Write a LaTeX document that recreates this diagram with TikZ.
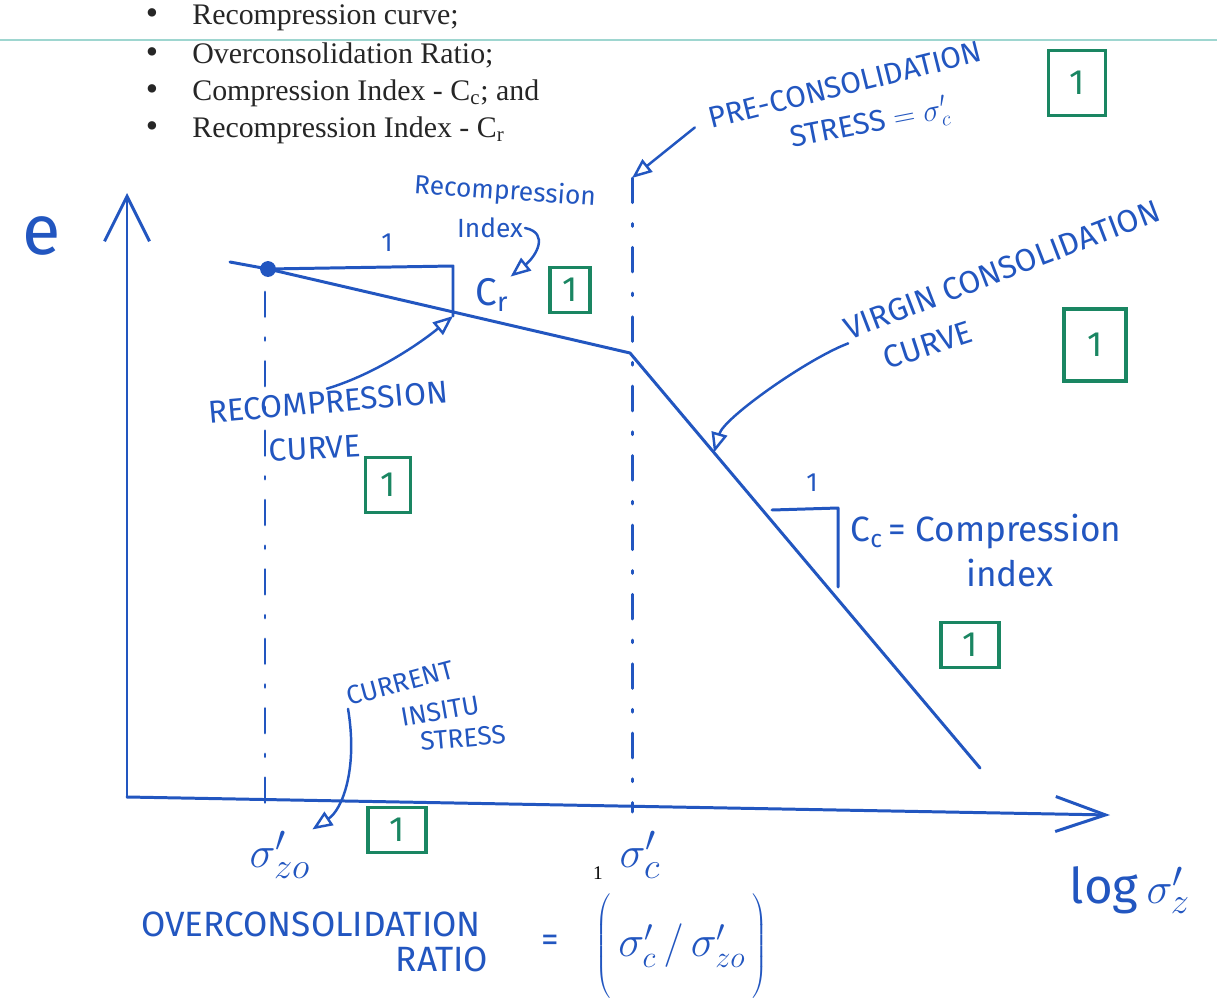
\documentclass[tikz,border=0pt]{standalone}
\usepackage{fontspec}
\setmainfont{Liberation Serif}
\newfontfamily\penfont{Fira Sans}
\usepackage{xcolor}
\usepackage{tikz}
\usetikzlibrary{arrows.meta,positioning,calc}
\definecolor{penblue}{RGB}{34,86,192}
\definecolor{markgreen}{RGB}{26,134,98}
\definecolor{ruleteal}{RGB}{158,214,208}
\tikzset{
  ecpen/.style={draw=penblue,line width=1.7pt,line cap=round,line join=round},
  ecguide/.style={ecpen,dash pattern=on 14pt off 12pt on 1.5pt off 12pt},
  ecarr/.style={ecpen,line width=1.4pt,-{Triangle[open,length=4mm,width=3.2mm]}},
  ecaxis/.style={ecpen,-{Straight Barb[length=9mm,width=9mm]}},
  echand/.style={text=penblue,font=\penfont\fontsize{17}{20}\selectfont,inner sep=1pt,align=center},
  ecmark/.style={draw=markgreen,line width=1.8pt,text=markgreen,font=\penfont\fontsize{20}{22}\selectfont,inner sep=0pt},
  ecprint/.style={anchor=base west,inner sep=0pt,font=\fontsize{17}{20}\selectfont,text=black!85},
  ecbullet/.style={anchor=base,inner sep=0pt,font=\fontsize{20}{22}\selectfont,text=black!85}
}
\begin{document}
\begin{tikzpicture}[x=0.02cm,y=-0.02cm]
\useasboundingbox[fill=white] (0,0) rectangle (1217,1004);

% printed list on top
\draw[ruleteal,line width=1.6pt] (0,40) -- (1217,40);
\foreach \yy/\txt in {25/{Recompression curve;},63/{Overconsolidation Ratio;},
    100/{Compression Index - C\textsubscript{c}; and},137/{Recompression Index - C\textsubscript{r}}}{
  \node[ecbullet] (dot\yy) at (152,\yy) {\textbullet};
  \node[ecprint] (item\yy) at (192,\yy) {\txt};
}

% axes
\coordinate (orig) at (127,797);
\coordinate (ytip) at (127,193);
\coordinate (xtip) at (1110,815);
\draw[ecaxis] (orig) -- (ytip);
\draw[ecaxis,-{Straight Barb[length=10mm,width=7mm]}] (orig) -- (xtip);
\node[echand,font=\penfont\fontsize{40}{42}\selectfont] (ylbl) at (42,236) {e};
\node[echand,font=\penfont\fontsize{28}{30}\selectfont] (xlbl) at (1130,890) {log\,$\sigma'_z$};

% e - log curve
\coordinate (rcstart) at (230,262);
\node[circle,fill=penblue,inner sep=0pt,minimum size=9pt] (pt) at (268,269) {};
\coordinate (knee) at (630,353);
\coordinate (vcend) at (980,768);
\draw[ecpen] (rcstart) -- (pt.center) -- (knee) -- (vcend);

% guides
\coordinate (gzotop) at (265,292);
\coordinate (gzobot) at (265,805);
\coordinate (gctop) at (632,178);
\coordinate (gcbot) at (632,812);
\draw[ecguide] (gzotop) -- (gzobot);
\draw[ecguide] (gctop) -- (gcbot);

% Cr triangle
\coordinate (crB) at (453,266);
\coordinate (crC) at (453,316);
\draw[ecpen] (pt.center) -- (crB) -- (crC);
\node[echand,font=\penfont\fontsize{15}{18}\selectfont] (crone) at (387,243) {1};
\node[echand,font=\penfont\fontsize{22}{24}\selectfont] (crlbl) at (492,295) {C\textsubscript{r}};
\node[ecmark,minimum width=0.8cm,minimum height=0.9cm] (crmark) at (570,290) {1};
\node[echand,font=\penfont\fontsize{15}{18}\selectfont,rotate=-4] (rilbl) at (505,192) {Recompression};
\node[echand,font=\penfont\fontsize{15}{18}\selectfont] (rilblb) at (490,228) {Index};
\draw[ecarr] (rilblb.east) .. controls +(25,5) and +(25,-20) .. (crlbl.north east);

% recompression curve label
\node[echand,font=\penfont\fontsize{18}{20}\selectfont,rotate=5] (rclbl) at (328,402) {RECOMPRESSION};
\node[echand,font=\penfont\fontsize{18}{20}\selectfont,rotate=3] (rclblb) at (315,448) {CURVE};
\node[ecmark,minimum width=0.9cm,minimum height=1.1cm] (rcmark) at (388,485) {1};
\draw[ecarr] (rclbl.north) .. controls +(50,-15) and +(-30,25) .. (crC);

% pre-consolidation stress
\node[echand,rotate=14] (pclbl) at (845,85) {PRE-CONSOLIDATION};
\node[echand,rotate=11] (pclblb) at (870,125) {STRESS $=\sigma'_c$};
\node[ecmark,minimum width=1.14cm,minimum height=1.3cm] (pcmark) at (1077,83) {1};
\draw[ecarr] ($(pclbl.west)+(-12,8)$) -- (gctop);

% virgin consolidation curve
\node[echand,font=\penfont\fontsize{18}{20}\selectfont,rotate=21] (vclbl) at (1002,270) {VIRGIN CONSOLIDATION};
\node[echand,font=\penfont\fontsize{18}{20}\selectfont,rotate=18] (vclblb) at (928,345) {CURVE};
\node[ecmark,minimum width=1.24cm,minimum height=1.44cm] (vcmark) at (1095,345) {1};
\coordinate (vctip) at ($(knee)!0.24!(vcend)$);
\draw[ecarr] (vclbl.south west) .. controls +(-40,15) and +(10,-35) .. (vctip);

% Cc triangle
\coordinate (ccA) at (772,510);
\coordinate (ccB) at (838,508);
\coordinate (ccC) at (838,587);
\draw[ecpen] (ccA) -- (ccB) -- (ccC);
\node[echand,font=\penfont\fontsize{15}{18}\selectfont] (ccone) at (812,483) {1};
\node[echand,font=\penfont\fontsize{20}{22}\selectfont] (cclbl) at (986,532) {C\textsubscript{c}\,= Compression};
\node[echand,font=\penfont\fontsize{20}{22}\selectfont] (cclblb) at (1010,573) {index};
\node[ecmark,minimum width=1.16cm,minimum height=0.9cm] (ccmark) at (970,645) {1};

% current insitu stress
\node[echand,font=\penfont\fontsize{15}{18}\selectfont] (zolbl) at (280,855) {\fontsize{30}{32}\selectfont$\sigma'_{zo}$};
\node[echand,font=\penfont\fontsize{15}{18}\selectfont,rotate=15] (islbl) at (400,683) {CURRENT};
\node[echand,font=\penfont\fontsize{15}{18}\selectfont,rotate=10] (islblb) at (440,711) {INSITU};
\node[echand,font=\penfont\fontsize{15}{18}\selectfont,rotate=5] (islblc) at (463,738) {STRESS};
\node[ecmark,minimum width=1.16cm,minimum height=0.9cm] (ismark) at (397,830) {1};
\draw[ecarr] (islbl.south west) .. controls +(10,60) and +(30,-20) .. (zolbl.north east);

\node[echand,font=\fontsize{30}{32}\selectfont] (clbl) at (640,855) {$\sigma'_c$};
\node[inner sep=0pt,font=\fontsize{11}{12}\selectfont] (stray) at (598,873) {1};

% overconsolidation ratio
\node[echand,font=\penfont\fontsize{20}{22}\selectfont] (ocrlbl) at (311,924) {OVERCONSOLIDATION};
\node[echand,font=\penfont\fontsize{20}{22}\selectfont] (ocrlblb) at (442,959) {RATIO};
\node[echand,font=\penfont\fontsize{20}{22}\selectfont] (ocreq) at (550,943) {=};
\node[echand,font=\fontsize{24}{26}\selectfont,inner sep=0pt] (ocrfrac) at (682,948)
  {$\left(\vrule height 26pt depth 26pt width 0pt\,\sigma'_c\,/\,\sigma'_{zo}\,\right)$};
\end{tikzpicture}
\end{document}
